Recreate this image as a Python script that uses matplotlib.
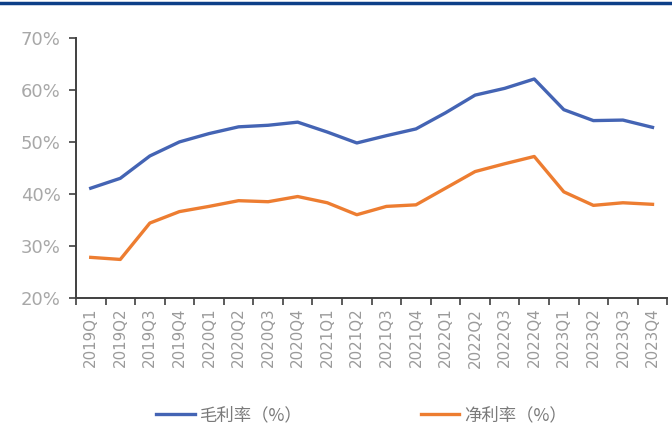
import matplotlib.pyplot as plt
from matplotlib.ticker import FuncFormatter

plt.rcParams['font.family'] = ['Noto Sans CJK SC', 'DejaVu Sans']

quarters = ["2019Q1", "2019Q2", "2019Q3", "2019Q4",
            "2020Q1", "2020Q2", "2020Q3", "2020Q4",
            "2021Q1", "2021Q2", "2021Q3", "2021Q4",
            "2022Q1", "2022Q2", "2022Q3", "2022Q4",
            "2023Q1", "2023Q2", "2023Q3", "2023Q4"]
gross_margin = [41.1, 43.0, 47.3, 50.0, 51.6, 52.9, 53.2, 53.8, 51.9, 49.8,
                51.2, 52.5, 55.6, 59.0, 60.3, 62.1, 56.2, 54.1, 54.2, 52.8]
net_margin = [27.8, 27.4, 34.4, 36.6, 37.6, 38.7, 38.5, 39.5, 38.3, 36.0,
              37.6, 37.9, 41.1, 44.3, 45.8, 47.2, 40.4, 37.8, 38.3, 38.0]

fig = plt.figure(figsize=(6.72, 4.46), dpi=100)
ax = fig.add_axes([0.113, 0.332, 0.88, 0.583])

x = range(len(quarters))
ax.plot(x, gross_margin, color="#4464b4", lw=2.4, label="毛利率（%）")
ax.plot(x, net_margin, color="#ed7d31", lw=2.4, label="净利率（%）")

ax.set_ylim(20, 70)
ax.set_yticks([20, 30, 40, 50, 60, 70])
ax.yaxis.set_major_formatter(FuncFormatter(lambda v, p: f"{v:.0f}%"))
ax.set_xlim(-0.5, len(quarters) - 0.5)
ax.set_xticks(list(x))
ax.set_xticklabels(quarters, rotation=90, family="DejaVu Sans", fontsize=10.8)
ax.set_xticks([i - 0.5 for i in range(len(quarters) + 1)], minor=True)
ax.tick_params(axis="x", which="major", length=0, pad=7, labelcolor="#9a9a9a")
ax.tick_params(axis="x", which="minor", length=5, width=1.2, color="#404040")
ax.tick_params(axis="y", length=5, width=1.2, color="#404040", pad=6, labelcolor="#a8a8a8")
for lbl in ax.get_yticklabels():
    lbl.set_family("DejaVu Sans")
    lbl.set_fontsize(13)

for side in ["top", "right"]:
    ax.spines[side].set_visible(False)
for side in ["left", "bottom"]:
    ax.spines[side].set_color("#404040")
    ax.spines[side].set_linewidth(1.4)

ax.legend(loc="upper center", bbox_to_anchor=(0.483, -0.355), ncol=2, frameon=False,
          fontsize=12.5, handlelength=2.2, handletextpad=0.3, columnspacing=6.8,
          labelcolor="#7a7a7a")

# header rule
fig.add_artist(plt.Line2D([0, 1], [0.993, 0.993], color="#0d3f88", lw=2.5))

fig.savefig("out.png", dpi=100)
